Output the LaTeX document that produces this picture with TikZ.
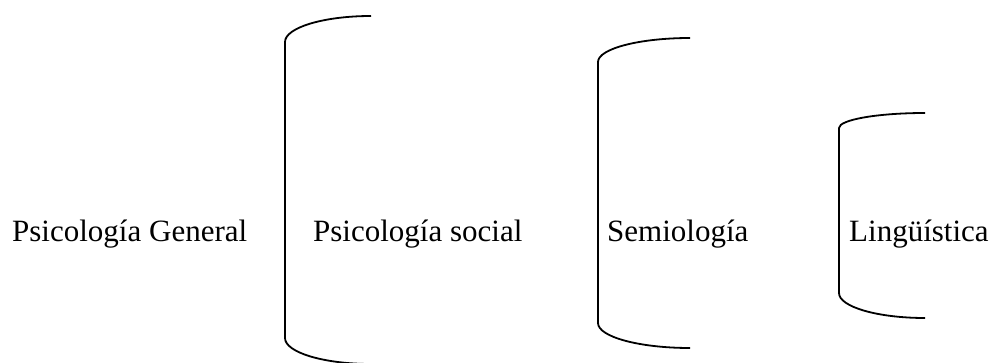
\documentclass[tikz,border=0pt]{standalone}
\usepackage{fontspec}
\setmainfont{Liberation Serif}
\begin{document}
\begin{tikzpicture}[x=1pt,y=1pt,
  label/.style={inner sep=0pt,anchor=base west,font=\fontsize{31}{37}\selectfont},
  brace/.style={line width=1.8pt,line join=round}]
\useasboundingbox (0,0) rectangle (996,362);

% field names along one baseline
\node[label] (general) at (12,121) {Psicología General};
\node[label] (social)  at (313,121) {Psicología social};
\node[label] (semio)   at (607,121) {Semiología};
\node[label] (ling)    at (849,121) {Lingüística};

% opening brackets, each an elliptic corner, a stem and another corner
\draw[brace] (371,346) arc[start angle=90,end angle=180,x radius=86,y radius=26]
  -- (285,24) arc[start angle=180,end angle=270,x radius=86,y radius=26];
\draw[brace] (690,324) arc[start angle=90,end angle=180,x radius=92,y radius=24]
  -- (598,39) arc[start angle=180,end angle=270,x radius=92,y radius=25];
\draw[brace] (925,249) arc[start angle=90,end angle=180,x radius=86,y radius=15]
  -- (839,69) arc[start angle=180,end angle=270,x radius=86,y radius=25];
\end{tikzpicture}
\end{document}
